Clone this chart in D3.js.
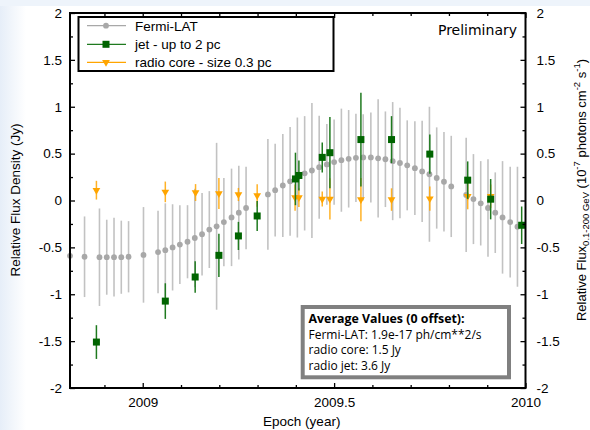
<!DOCTYPE html>
<html>
<head>
<meta charset="utf-8">
<script src="https://cdn.jsdelivr.net/npm/d3@7"></script>
<style>
  body { margin: 0; background: #fff; }
  svg { display: block; }
</style>
</head>
<body>
<svg id="chart" width="590" height="430"></svg>
<script>

// Fermi-LAT weekly points (epoch, relative flux, error)
var fermiEpoch = [2008.810, 2008.848, 2008.887, 2008.906, 2008.925, 2008.944, 2008.963, 2009.002,
  2009.040, 2009.059, 2009.078, 2009.097, 2009.117, 2009.136, 2009.155, 2009.174, 2009.193,
  2009.212, 2009.232, 2009.251, 2009.270, 2009.327, 2009.346, 2009.366, 2009.385, 2009.404,
  2009.423, 2009.442, 2009.461, 2009.481, 2009.500, 2009.519, 2009.538, 2009.557, 2009.576,
  2009.596, 2009.615, 2009.634, 2009.653, 2009.672, 2009.691, 2009.711, 2009.730, 2009.749,
  2009.768, 2009.787, 2009.806, 2009.845, 2009.864, 2009.883, 2009.902, 2009.921, 2009.940,
  2009.960, 2009.979];
var fermiFlux = [-0.59, -0.60, -0.605, -0.605, -0.605, -0.605, -0.60, -0.58,
  -0.55, -0.53, -0.50, -0.47, -0.44, -0.40, -0.36, -0.31, -0.275,
  -0.23, -0.18, -0.13, -0.08, 0.065, 0.11, 0.16, 0.205, 0.245,
  0.29, 0.32, 0.355, 0.385, 0.41, 0.43, 0.445, 0.455, 0.46,
  0.46, 0.45, 0.44, 0.42, 0.40, 0.375, 0.345, 0.31, 0.28,
  0.24, 0.20, 0.15, 0.06, 0.015, -0.03, -0.08, -0.13, -0.18,
  -0.23, -0.28];
var fermiErr = [0.45, 0.43, 0.52, 0.40, 0.42, 0.39, 0.38, 0.51,
  0.44, 0.50, 0.46, 0.42, 0.39, 0.525, 0.44, 0.41, 0.89,
  0.47, 0.52, 0.50, 0.44, 0.59, 0.495, 0.55, 0.58, 0.64,
  0.61, 0.72, 0.55, 0.43, 0.455, 0.55, 0.52, 0.47, 0.46,
  0.48, 0.63, 0.51, 0.63, 0.59, 0.48, 0.50, 0.54, 0.72,
  0.54, 0.53, 0.54, 0.61, 0.48, 0.45, 0.52, 0.43, 0.60,
  0.59, 0.64];

// radio jet (up to 2 pc)
var jetEpoch = [2008.879, 2009.059, 2009.137, 2009.199, 2009.250, 2009.299, 2009.399, 2009.408,
  2009.469, 2009.489, 2009.570, 2009.650, 2009.750, 2009.849, 2009.909, 2009.990];
var jetFlux = [-1.51, -1.073, -0.816, -0.585, -0.378, -0.165, 0.23, 0.267,
  0.46, 0.51, 0.65, 0.65, 0.495, 0.217, 0.014, -0.264];
var jetErr = [0.18, 0.19, 0.167, 0.23, 0.15, 0.16, 0.28, 0.16,
  0.16, 0.38, 0.50, 0.25, 0.21, 0.20, 0.215, 0.20];

// radio core (size 0.3 pc)
var coreEpoch = [2008.879, 2009.059, 2009.138, 2009.199, 2009.250, 2009.299, 2009.398, 2009.408,
  2009.469, 2009.489, 2009.570, 2009.650, 2009.750, 2009.849, 2009.909];
var coreFlux = [0.11, 0.092, 0.085, 0.075, 0.064, 0.053, 0.032, 0.032,
  0.017, 0.017, 0.01, 0.01, 0.02, 0.046, 0.046];
var coreErr = [0.10, 0.11, 0.09, 0.165, 0.07, 0.12, 0.14, 0.10,
  0.08, 0.22, 0.23, 0.12, 0.13, 0.14, 0.125];

var yTicks = [-2, -1.5, -1, -0.5, 0, 0.5, 1, 1.5, 2];
var yMinor = [-1.75, -1.25, -0.75, -0.25, 0.25, 0.75, 1.25, 1.75];
var xTicks = [2009, 2009.5, 2010];
var xMinor = [2008.9, 2009.1, 2009.2, 2009.3, 2009.4, 2009.6, 2009.7, 2009.8, 2009.9];
var legendLabels = ["Fermi-LAT", "jet - up to 2 pc", "radio core - size 0.3 pc"];
var noteTitle = "Average Values (0 offset):";
var noteLines = ["Fermi-LAT: 1.9e-17 ph/cm**2/s", "radio core: 1.5 Jy", "radio jet: 3.6 Jy"];

var svg = d3.select("#chart");
var font = "'Liberation Sans', Arial, sans-serif";

// pale slide background at edges
var grad = svg.append("defs").append("linearGradient").attr("id", "edge");
grad.append("stop").attr("offset", "0%").attr("stop-color", "#e6eef8");
grad.append("stop").attr("offset", "100%").attr("stop-color", "#ffffff");
svg.append("rect").attr("width", 590).attr("height", 430).attr("fill", "#fff");
svg.append("rect").attr("width", 26).attr("height", 430).attr("fill", "url(#edge)");
svg.append("rect").attr("width", 590).attr("height", 6).attr("fill", "#eef4fb");

var pL = 70, pR = 525.5, pT = 13, pB = 388;

var x = d3.scaleLinear().domain([2008.81, 2010]).range([pL, pR]);
var y = d3.scaleLinear().domain([-2, 2]).range([pB, pT]);

var fermi = fermiEpoch.map(function (d, i) { return { t: d, v: fermiFlux[i], e: fermiErr[i] }; });
var jet = jetEpoch.map(function (d, i) { return { t: d, v: jetFlux[i], e: jetErr[i] }; });
var core = coreEpoch.map(function (d, i) { return { t: d, v: coreFlux[i], e: coreErr[i] }; });

var plot = svg.append("g");

// Fermi error bars and points
plot.append("g").selectAll("line")
  .data(fermi).enter().append("line")
  .attr("x1", function (d) { return x(d.t); })
  .attr("x2", function (d) { return x(d.t); })
  .attr("y1", function (d) { return y(d.v + d.e); })
  .attr("y2", function (d) { return y(d.v - d.e); })
  .attr("stroke", "#c2c2c2")
  .attr("stroke-width", 1.6);
plot.append("g").selectAll("circle")
  .data(fermi).enter().append("circle")
  .attr("cx", function (d) { return x(d.t); })
  .attr("cy", function (d) { return y(d.v); })
  .attr("r", 2.9)
  .attr("fill", "#a8a8a8");

// radio core
plot.append("g").selectAll("line")
  .data(core).enter().append("line")
  .attr("x1", function (d) { return x(d.t); })
  .attr("x2", function (d) { return x(d.t); })
  .attr("y1", function (d) { return y(d.v + d.e); })
  .attr("y2", function (d) { return y(d.v - d.e); })
  .attr("stroke", "#ffa500")
  .attr("stroke-opacity", 0.85)
  .attr("stroke-width", 1.5);
var tri = d3.symbol().type(d3.symbolTriangle).size(26);
plot.append("g").selectAll("path")
  .data(core).enter().append("path")
  .attr("d", tri)
  .attr("transform", function (d) { return "translate(" + x(d.t) + "," + y(d.v) + ") rotate(180)"; })
  .attr("fill", "#ffa500");

// jet
plot.append("g").selectAll("line")
  .data(jet).enter().append("line")
  .attr("x1", function (d) { return x(d.t); })
  .attr("x2", function (d) { return x(d.t); })
  .attr("y1", function (d) { return y(d.v + d.e); })
  .attr("y2", function (d) { return y(d.v - d.e); })
  .attr("stroke", "#1f7a1f")
  .attr("stroke-width", 1.5);
plot.append("g").selectAll("rect")
  .data(jet).enter().append("rect")
  .attr("x", function (d) { return x(d.t) - 3.5; })
  .attr("y", function (d) { return y(d.v) - 3.5; })
  .attr("width", 7)
  .attr("height", 7)
  .attr("fill", "#006400");

// axes: major + minor ticks pointing inward on all four sides
function styleAxis(g) {
  g.select(".domain").remove();
  g.selectAll(".tick line").attr("stroke", "#000").attr("stroke-width", 1.3);
  g.selectAll("text").attr("font-family", font).attr("font-size", 13.5).attr("fill", "#000");
}
var fmt = function (d) { return String(d); };

svg.append("g").attr("transform", "translate(" + pL + ",0)")
  .call(d3.axisLeft(y).tickValues(yTicks).tickFormat(fmt).tickSize(-5).tickPadding(8))
  .call(styleAxis);
svg.append("g").attr("transform", "translate(" + pL + ",0)")
  .call(d3.axisLeft(y).tickValues(yMinor).tickFormat("").tickSize(-3))
  .call(styleAxis);
svg.append("g").attr("transform", "translate(" + pR + ",0)")
  .call(d3.axisRight(y).tickValues(yTicks).tickFormat(fmt).tickSize(-5).tickPadding(11))
  .call(styleAxis);
svg.append("g").attr("transform", "translate(" + pR + ",0)")
  .call(d3.axisRight(y).tickValues(yMinor).tickFormat("").tickSize(-3))
  .call(styleAxis);
svg.append("g").attr("transform", "translate(0," + pB + ")")
  .call(d3.axisBottom(x).tickValues(xTicks).tickFormat(fmt).tickSize(-5).tickPadding(9))
  .call(styleAxis);
svg.append("g").attr("transform", "translate(0," + pB + ")")
  .call(d3.axisBottom(x).tickValues(xMinor).tickFormat("").tickSize(-3))
  .call(styleAxis);
svg.append("g").attr("transform", "translate(0," + pT + ")")
  .call(d3.axisTop(x).tickValues(xTicks).tickFormat("").tickSize(-5))
  .call(styleAxis);
svg.append("g").attr("transform", "translate(0," + pT + ")")
  .call(d3.axisTop(x).tickValues(xMinor).tickFormat("").tickSize(-3))
  .call(styleAxis);

// frame
svg.append("rect")
  .attr("x", pL).attr("y", pT)
  .attr("width", pR - pL).attr("height", pB - pT)
  .attr("fill", "none").attr("stroke", "#000").attr("stroke-width", 2);

// axis titles
svg.append("text")
  .attr("transform", "translate(20," + 200 + ") rotate(-90)")
  .attr("text-anchor", "middle")
  .attr("font-family", font).attr("font-size", 13.5)
  .text("Relative Flux Density (Jy)");
svg.append("text")
  .attr("x", (pL + pR) / 2 + 4).attr("y", 426)
  .attr("text-anchor", "middle")
  .attr("font-family", font).attr("font-size", 13.5)
  .text("Epoch (year)");

var rt = svg.append("text")
  .attr("transform", "translate(586," + 190 + ") rotate(-90)")
  .attr("text-anchor", "middle")
  .attr("font-family", font).attr("font-size", 13);
rt.append("tspan").text("Relative Flux");
rt.append("tspan").attr("font-size", 9.5).attr("dy", 3).text("0.1-200 GeV");
rt.append("tspan").attr("dy", -3).text(" (10");
rt.append("tspan").attr("font-size", 9.5).attr("dy", -6).text("-7");
rt.append("tspan").attr("dy", 6).text(" photons cm");
rt.append("tspan").attr("font-size", 9.5).attr("dy", -6).text("-2");
rt.append("tspan").attr("dy", 6).text(" s");
rt.append("tspan").attr("font-size", 9.5).attr("dy", -6).text("-1");
rt.append("tspan").attr("dy", 6).text(")");

// Preliminary
svg.append("text")
  .attr("x", 517).attr("y", 35)
  .attr("text-anchor", "end")
  .attr("font-family", "'DejaVu Sans', sans-serif").attr("font-size", 14)
  .text("Preliminary");

// legend
var legend = svg.append("g");
legend.append("rect")
  .attr("x", 78.5).attr("y", 17).attr("width", 255).attr("height", 54)
  .attr("fill", "#fff").attr("stroke", "#000").attr("stroke-width", 2);
var legColors = ["#a8a8a8", "#1f7a1f", "#ffa500"];
var legRows = [25.7, 44.3, 62.3];
legendLabels.forEach(function (lab, i) {
  var g = legend.append("g").attr("transform", "translate(0," + legRows[i] + ")");
  g.append("line").attr("x1", 87).attr("x2", 126).attr("stroke", legColors[i]).attr("stroke-width", 1.3);
  if (i === 0) {
    g.append("circle").attr("cx", 106).attr("r", 2.9).attr("fill", "#a8a8a8");
  } else if (i === 1) {
    g.append("rect").attr("x", 102.5).attr("y", -3.5).attr("width", 7).attr("height", 7).attr("fill", "#006400");
  } else {
    g.append("path").attr("d", tri).attr("transform", "translate(106,0) rotate(180)").attr("fill", "#ffa500");
  }
  g.append("text").attr("x", 135).attr("y", 5)
    .attr("font-family", font).attr("font-size", 13.5)
    .text(lab);
});

// average values note
var note = svg.append("g");
note.append("rect")
  .attr("x", 302.7).attr("y", 307).attr("width", 206.3).attr("height", 70.3)
  .attr("fill", "#fff").attr("stroke", "#808080").attr("stroke-width", 4);
var noteFont = "'Open Sans', sans-serif";
note.append("text")
  .attr("x", 308.5).attr("y", 323.3)
  .attr("font-family", noteFont).attr("font-size", 12.4).attr("font-weight", "bold")
  .text(noteTitle);
var noteY = [338.5, 354, 370];
noteLines.forEach(function (s, i) {
  note.append("text")
    .attr("x", 308.5).attr("y", noteY[i])
    .attr("font-family", noteFont).attr("font-size", 12)
    .text(s);
});

</script>
</body>
</html>
